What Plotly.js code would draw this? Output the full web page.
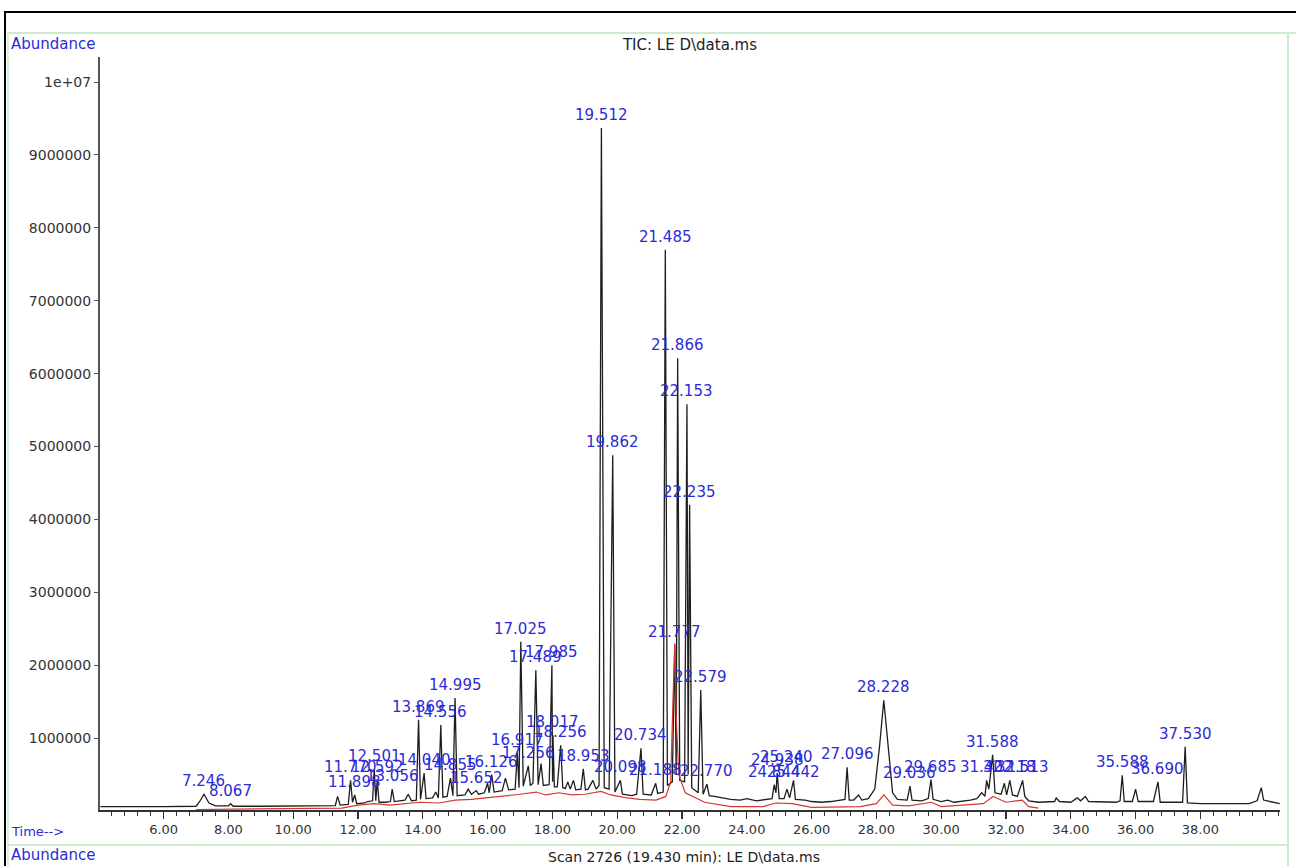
<!DOCTYPE html>
<html>
<head>
<meta charset="utf-8">
<script src="https://cdn.plot.ly/plotly-3.0.1.min.js"></script>
<style>html,body{margin:0;padding:0;background:#fff;}#chart{width:1296px;height:866px;}</style>
</head>
<body>
<div id="chart"></div>
<script>
// ---- TIC trace (black): retention time (min) and abundance
const tic_time = [
  4.05, 5.0, 6.0, 7.0, 7.10, 7.246, 7.40, 7.6, 8.0, 8.067, 8.15, 9.0, 10.0, 10.8,
  11.30, 11.37, 11.45, 11.70, 11.770, 11.83, 11.898, 11.96, 12.2, 12.30, 12.45, 12.501, 12.55, 12.592, 12.65,
  12.85, 13.00, 13.056, 13.12, 13.45, 13.55, 13.65, 13.80, 13.869, 13.93, 14.040, 14.10, 14.30, 14.40, 14.48,
  14.556, 14.62, 14.75, 14.855, 14.93, 14.995, 15.06, 15.30, 15.40, 15.50, 15.652, 15.72, 15.90, 16.00, 16.05,
  16.126, 16.20, 16.45, 16.55, 16.65, 16.85, 16.917, 16.97, 17.025, 17.10, 17.256, 17.32, 17.40, 17.489, 17.56,
  17.65, 17.72, 17.90, 17.985, 18.005, 18.017, 18.06, 18.15, 18.256, 18.32, 18.40, 18.476, 18.55, 18.65, 18.72,
  18.88, 18.953, 19.02, 19.10, 19.25, 19.35, 19.44, 19.512, 19.60, 19.75, 19.862, 19.93, 20.098, 20.16, 20.45,
  20.60, 20.734, 20.80, 21.05, 21.188, 21.25, 21.42, 21.485, 21.55, 21.70, 21.777, 21.82, 21.866, 21.93, 22.08,
  22.153, 22.19, 22.235, 22.30, 22.50, 22.579, 22.65, 22.770, 22.84, 23.0, 23.2, 23.5, 23.8, 24.0, 24.3, 24.5,
  24.78, 24.844, 24.90, 24.938, 25.0, 25.15, 25.240, 25.32, 25.442, 25.50, 25.8, 26.0, 26.3, 26.6, 26.9,
  27.03, 27.096, 27.16, 27.3, 27.45, 27.55, 27.75, 27.95, 28.10, 28.228, 28.35, 28.50, 28.65, 28.95, 29.036,
  29.10, 29.40, 29.60, 29.685, 29.75, 30.0, 30.2, 30.4, 30.6, 30.9, 31.10, 31.25, 31.35, 31.402, 31.47, 31.588,
  31.66, 31.85, 31.95, 32.02, 32.118, 32.20, 32.35, 32.513, 32.58, 32.70, 33.0, 33.5, 33.55, 33.65, 34.0, 34.2,
  34.3, 34.45, 34.55, 35.0, 35.4, 35.52, 35.588, 35.65, 35.9, 36.0, 36.08, 36.55, 36.690, 36.76, 37.45, 37.530,
  37.60, 38.0, 38.5, 39.0, 39.5, 39.75, 39.88, 39.95, 40.45
];
const tic_abund = [
  60000, 55000, 60000, 65000, 120000, 230000, 110000, 70000, 70000, 100000, 65000, 65000, 70000, 75000,
  75000, 200000, 80000, 90000, 420000, 120000, 220000, 100000, 110000, 130000, 140000, 580000, 140000, 420000, 120000,
  120000, 130000, 300000, 130000, 150000, 230000, 140000, 150000, 1250000, 160000, 520000, 170000, 180000, 260000, 180000,
  1180000, 190000, 200000, 450000, 210000, 1550000, 210000, 220000, 300000, 230000, 280000, 230000, 250000, 380000, 250000,
  500000, 260000, 280000, 450000, 290000, 300000, 800000, 320000, 2320000, 340000, 620000, 350000, 380000, 1930000, 360000,
  650000, 350000, 360000, 2000000, 400000, 1040000, 330000, 330000, 900000, 320000, 310000, 400000, 300000, 420000, 290000,
  300000, 580000, 290000, 300000, 420000, 300000, 350000, 9370000, 320000, 300000, 4880000, 260000, 420000, 230000, 210000,
  230000, 860000, 230000, 220000, 380000, 240000, 260000, 7700000, 350000, 400000, 2280000, 500000, 6210000, 420000, 400000,
  5580000, 500000, 4200000, 320000, 250000, 1660000, 230000, 370000, 210000, 200000, 180000, 160000, 150000, 170000, 140000, 150000,
  170000, 360000, 250000, 520000, 170000, 170000, 300000, 180000, 420000, 160000, 150000, 130000, 120000, 130000, 150000,
  160000, 600000, 150000, 150000, 220000, 150000, 170000, 300000, 900000, 1520000, 900000, 250000, 160000, 150000, 340000,
  150000, 140000, 170000, 430000, 160000, 130000, 150000, 120000, 130000, 150000, 170000, 250000, 200000, 420000, 300000, 770000,
  250000, 230000, 380000, 220000, 420000, 220000, 200000, 420000, 200000, 140000, 120000, 130000, 180000, 130000, 120000, 180000,
  140000, 200000, 130000, 120000, 120000, 140000, 490000, 130000, 130000, 300000, 130000, 130000, 400000, 120000, 120000, 880000,
  110000, 100000, 100000, 100000, 100000, 140000, 320000, 150000, 100000
];

// ---- second overlaid trace (red)
const red_time = [
  7.0, 8.5, 11.5, 12.0, 12.5, 13.0, 13.9, 14.5, 15.0, 15.5, 16.0, 16.5, 17.0, 17.5, 17.8, 18.2, 18.6, 19.0,
  19.3, 19.5, 19.8, 20.3, 20.7, 21.2, 21.5, 21.65, 21.72, 21.777, 21.83, 21.9, 22.1, 22.4, 22.7, 23.5, 24.5,
  24.9, 25.4, 26.0, 27.5, 28.0, 28.228, 28.5, 29.0, 29.7, 30.0, 31.3, 31.6, 32.0, 32.5, 32.7, 33.0
];
const red_abund = [
  20000, 30000, 40000, 80000, 100000, 80000, 120000, 110000, 150000, 160000, 180000, 200000, 230000, 260000, 220000, 250000, 220000, 230000,
  250000, 270000, 220000, 180000, 160000, 150000, 200000, 400000, 1500000, 2300000, 1200000, 500000, 250000, 180000, 120000, 60000, 60000,
  110000, 100000, 50000, 60000, 100000, 220000, 80000, 70000, 120000, 60000, 100000, 200000, 120000, 150000, 60000, 40000
];

// ---- integrated peak labels (retention time, apex abundance)
const peak_rt = [
  7.246, 8.067, 11.770, 11.898, 12.501, 12.592, 13.056, 13.869, 14.040, 14.556, 14.855, 14.995, 15.652, 16.126,
  16.917, 17.025, 17.256, 17.489, 17.985, 18.017, 18.256, 18.953, 19.512, 19.862, 20.098, 20.734, 21.188, 21.485,
  21.777, 21.866, 22.153, 22.235, 22.579, 22.770, 24.844, 24.938, 25.240, 25.442, 27.096, 28.228, 29.036, 29.685,
  31.402, 31.588, 32.118, 32.513, 35.588, 36.690, 37.530
];
const peak_abund = [
  230000, 100000, 420000, 220000, 580000, 420000, 300000, 1250000, 520000, 1180000, 450000, 1550000, 280000, 500000,
  800000, 2320000, 620000, 1930000, 2000000, 1040000, 900000, 580000, 9370000, 4880000, 420000, 860000, 380000, 7700000,
  2280000, 6210000, 5580000, 4200000, 1660000, 370000, 360000, 520000, 560000, 360000, 600000, 1520000, 340000, 430000,
  420000, 770000, 420000, 420000, 490000, 400000, 880000
];

// ---- axis tick labels
const xtick_vals = [6, 8, 10, 12, 14, 16, 18, 20, 22, 24, 26, 28, 30, 32, 34, 36, 38];
const xtick_text = ["6.00", "8.00", "10.00", "12.00", "14.00", "16.00", "18.00", "20.00", "22.00", "24.00", "26.00", "28.00", "30.00", "32.00", "34.00", "36.00", "38.00"];
const ytick_vals = [1000000, 2000000, 3000000, 4000000, 5000000, 6000000, 7000000, 8000000, 9000000, 10000000];
const ytick_text = ["1000000", "2000000", "3000000", "4000000", "5000000", "6000000", "7000000", "8000000", "9000000", "1e+07"];

const chart_title = "TIC: LE D\\data.ms";
const lower_title = "Scan 2726 (19.430 min): LE D\\data.ms";

const FONT = "DejaVu Sans, Verdana, sans-serif";
const BLUE = "#2b2bd6";

const traces = [
  {x: tic_time, y: tic_abund, type: "scatter", mode: "lines", line: {color: "#1e1e1e", width: 1.3}, hoverinfo: "skip"},
  {x: red_time, y: red_abund, type: "scatter", mode: "lines", line: {color: "#d2382e", width: 1.2}, hoverinfo: "skip"}
];

// plot area in px: left 100, right 1280, top 57, bottom 810
const W = 1296, H = 866, L = 100, R = 16, T = 57, B = 56;
const pw = W - L - R, ph = H - T - B;
const px = v => (v - L) / pw;
const py = v => (H - B - v) / ph;

const annotations = peak_rt.map((rt, i) => ({
  x: rt, y: peak_abund[i], xref: "x", yref: "y",
  text: rt.toFixed(3), showarrow: false, xanchor: "center", yanchor: "bottom", yshift: 2,
  font: {family: FONT, size: 15, color: BLUE}
}));
annotations.push(
  {xref: "paper", yref: "paper", x: px(9), y: py(44), xanchor: "left", yanchor: "middle", text: "Abundance", showarrow: false, font: {family: FONT, size: 15, color: BLUE}},
  {xref: "paper", yref: "paper", x: px(9), y: py(831), xanchor: "left", yanchor: "middle", text: "Time-->", showarrow: false, font: {family: FONT, size: 13, color: BLUE}},
  {xref: "paper", yref: "paper", x: px(9), y: py(855), xanchor: "left", yanchor: "middle", text: "Abundance", showarrow: false, font: {family: FONT, size: 15, color: BLUE}},
  {xref: "paper", yref: "paper", x: px(684), y: py(857), xanchor: "center", yanchor: "middle", text: lower_title, showarrow: false, font: {family: FONT, size: 14, color: "#222"}}
);

const shapes = [
  // outer black frame
  {type: "line", xref: "paper", yref: "paper", x0: px(4), x1: px(1296), y0: py(12), y1: py(12), line: {color: "#000", width: 2}},
  {type: "line", xref: "paper", yref: "paper", x0: px(5), x1: px(5), y0: py(12), y1: py(866), line: {color: "#000", width: 2}},
  // light green panel borders
  {type: "line", xref: "paper", yref: "paper", x0: px(7), x1: px(1296), y0: py(33), y1: py(33), line: {color: "#cdeccd", width: 2}},
  {type: "line", xref: "paper", yref: "paper", x0: px(8), x1: px(8), y0: py(33), y1: py(866), line: {color: "#d8f3d8", width: 2}},
  {type: "line", xref: "paper", yref: "paper", x0: px(1288), x1: px(1288), y0: py(33), y1: py(866), line: {color: "#cdeccd", width: 2}},
  {type: "line", xref: "paper", yref: "paper", x0: px(7), x1: px(1288), y0: py(845), y1: py(845), line: {color: "#cdeccd", width: 2}}
];

// x axis: compromise linear scale, 32.4 px per minute
const xs = 32.4, x22 = 682;
const xr = [22 - (x22 - L) / xs, 22 + (W - R - x22) / xs];
// y axis: 72.9 px per 1e6, zero at y=811
const ys = 72.9e-6, y0px = 811;
const yr = [(y0px - (H - B)) / ys, (y0px - T) / ys];

const layout = {
  width: W, height: H,
  margin: {l: L, r: R, t: T, b: B, pad: 0},
  paper_bgcolor: "#ffffff", plot_bgcolor: "#ffffff",
  showlegend: false,
  title: {text: chart_title, xref: "paper", x: 0.5, xanchor: "center", yref: "container", y: 1 - 45 / H, yanchor: "middle",
          font: {family: FONT, size: 15, color: "#222"}},
  xaxis: {
    range: xr, showgrid: false, zeroline: false, showline: true, linecolor: "#333", linewidth: 1.5,
    ticks: "outside", ticklen: 7, tickwidth: 1.2, tickcolor: "#333",
    tickmode: "array", tickvals: xtick_vals, ticktext: xtick_text,
    tickfont: {family: FONT, size: 13, color: "#333"},
    minor: {dtick: 0.4, tick0: 0, ticks: "outside", ticklen: 4, tickcolor: "#333", tickwidth: 1, showgrid: false},
    fixedrange: true
  },
  yaxis: {
    range: yr, showgrid: false, zeroline: false, showline: true, linecolor: "#555", linewidth: 2,
    ticks: "outside", ticklen: 4, tickwidth: 1, tickcolor: "#555",
    tickmode: "array", tickvals: ytick_vals, ticktext: ytick_text,
    tickfont: {family: FONT, size: 14, color: "#333"},
    fixedrange: true
  },
  annotations: annotations,
  shapes: shapes
};

Plotly.newPlot("chart", traces, layout, {staticPlot: true, displayModeBar: false});
</script>
</body>
</html>
